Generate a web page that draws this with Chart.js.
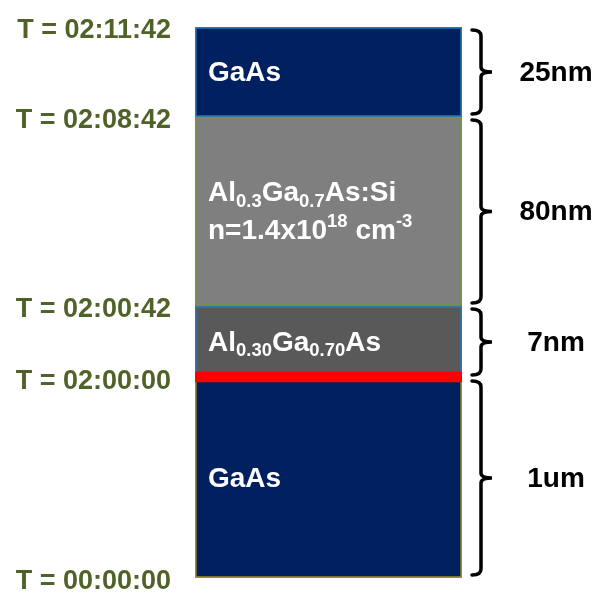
<!DOCTYPE html>
<html>
<head>
<meta charset="utf-8">
<script src="https://cdn.jsdelivr.net/npm/chart.js@4.4.0/dist/chart.umd.min.js"></script>
<style>body{margin:0;background:#fff}</style>
</head>
<body>
<canvas id="stack" width="602" height="593"></canvas>
<script>
// layers from substrate (bottom) up, heights are schematic (not to scale)
const layerNames = ['GaAs', 'Al_{0.30}Ga_{0.70}As', 'Al_{0.3}Ga_{0.7}As:Si|n=1.4x10^{18} cm^{-3}', 'GaAs']
const layerBounds = [0, 200, 272, 461, 551]
const thickness = ['1um', '7nm', '80nm', '25nm']
const growthTimes = ['T = 00:00:00', 'T = 02:00:00', 'T = 02:00:42', 'T = 02:08:42', 'T = 02:11:42']
const interfaceBand = [196, 206]   // the red marker at the AlGaAs / GaAs interface

const fills = ['#002060', '#595959', '#7f7f7f', '#002060']
const edges = ['#a0901f', '#2e75b6', '#77933c', '#2e75b6']
const fontFam = '"Liberation Sans", Arial, sans-serif'

// draws text with _{sub} and ^{sup} parts
function richText(ctx, str, x, y, size) {
  let parts = str.split(/(_\{[^}]*\}|\^\{[^}]*\})/).filter(s => s)
  for (let p of parts) {
    let dy = 0, sz = size, t = p
    if (p[0] == '_') { t = p.slice(2, -1); sz = size * 0.66; dy = 8 }
    if (p[0] == '^') { t = p.slice(2, -1); sz = size * 0.66; dy = -10 }
    ctx.font = `bold ${sz}px ${fontFam}`
    ctx.fillText(t, x, y + dy)
    x += ctx.measureText(t).width
  }
}

const stackLabels = {
  id: 'stackLabels',
  afterDatasetsDraw(chart) {
    let ctx = chart.ctx
    let y = chart.scales.y
    let area = chart.chartArea
    ctx.save()
    // names inside the layers
    ctx.fillStyle = '#fff'
    ctx.textBaseline = 'middle'
    ctx.textAlign = 'left'
    layerNames.forEach((name, i) => {
      let mid = (y.getPixelForValue(layerBounds[i]) + y.getPixelForValue(layerBounds[i + 1])) / 2
      let lines = name.split('|')
      lines.forEach((ln, k) => {
        let off = (k - (lines.length - 1) / 2) * 38
        richText(ctx, ln, area.left + 13, mid + off + 1, 28)
      })
    })
    // braces + thicknesses on the right
    ctx.strokeStyle = '#000'
    ctx.lineWidth = 3.5
    ctx.lineCap = 'round'
    let x = area.right + 19
    thickness.forEach((t, i) => {
      let top = y.getPixelForValue(layerBounds[i + 1]) + 3
      let bot = y.getPixelForValue(layerBounds[i]) - 3
      let mid = (top + bot) / 2
      ctx.beginPath()
      ctx.moveTo(x - 9, top)
      ctx.quadraticCurveTo(x, top, x, top + 6)
      ctx.lineTo(x, mid - 5)
      ctx.quadraticCurveTo(x, mid, x + 11, mid)
      ctx.quadraticCurveTo(x, mid, x, mid + 5)
      ctx.lineTo(x, bot - 6)
      ctx.quadraticCurveTo(x, bot, x - 9, bot)
      ctx.stroke()
      ctx.fillStyle = '#000'
      ctx.textAlign = 'center'
      ctx.font = `bold 28px ${fontFam}`
      ctx.fillText(t, 556, mid + 1)
    })
    ctx.restore()
  }
}

let datasets = layerNames.map((name, i) => {
  let data = [[layerBounds[i], layerBounds[i + 1]]]
  return {
    label: name,
    data: data,
    backgroundColor: fills[i],
    borderColor: edges[i],
    borderWidth: 2,
    borderSkipped: false,
    grouped: false,
    barPercentage: 1,
    categoryPercentage: 1,
    order: 1
  }
})
datasets.push({
  label: 'interface',
  data: [interfaceBand],
  backgroundColor: '#ff0000',
  borderWidth: 0,
  grouped: false,
  barPercentage: 1,
  categoryPercentage: 1,
  order: 0
})

let stackChart = new Chart(document.getElementById('stack').getContext('2d'), {
  type: 'bar',
  data: {
    labels: ['stack'],
    datasets: datasets
  },
  options: {
    responsive: false,
    animation: false,
    layout: { padding: { left: 0, right: 140, top: 27, bottom: 15 } },
    plugins: {
      legend: { display: false },
      tooltip: { enabled: false }
    },
    scales: {
      x: { display: false },
      y: {
        min: layerBounds[0],
        max: layerBounds[layerBounds.length - 1],
        grid: { display: false },
        border: { display: false },
        afterFit: (scale) => {
          scale.width = 195
          scale.paddingTop = 0
          scale.paddingBottom = 0
        },
        afterBuildTicks: (scale) => { scale.ticks = layerBounds.map(v => ({ value: v })) },
        ticks: {
          autoSkip: false,
          padding: 16,
          labelOffset: 4,
          color: '#4f6228',
          font: { family: fontFam, size: 27, weight: 'bold' },
          callback: (v) => growthTimes[layerBounds.indexOf(v)]
        }
      }
    }
  },
  plugins: [stackLabels]
})
</script>
</body>
</html>
